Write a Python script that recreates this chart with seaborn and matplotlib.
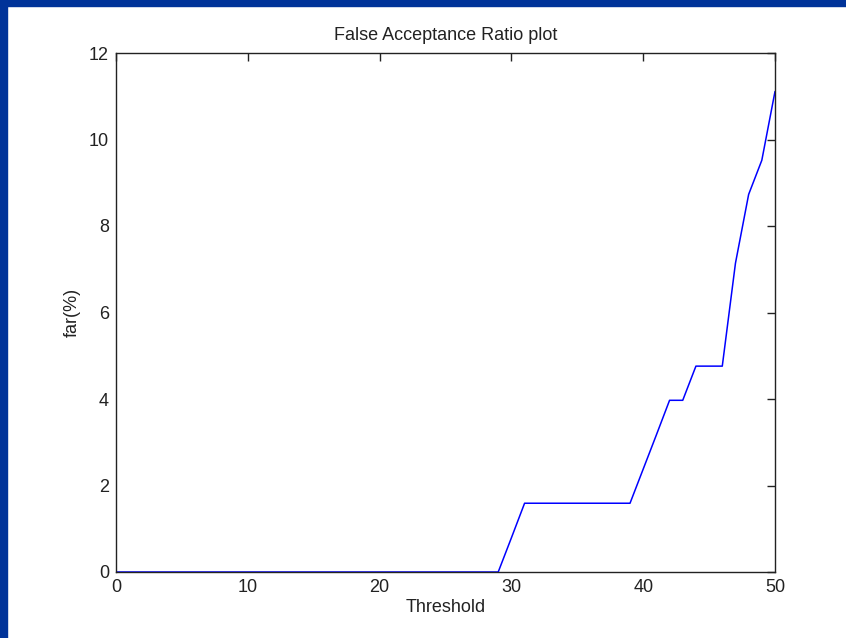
import numpy as np
import pandas as pd
import matplotlib
matplotlib.use("Agg")
import matplotlib.pyplot as plt
from matplotlib.patches import Rectangle
import seaborn as sns

# threshold values and false acceptance ratio (%)
threshold = list(range(0, 51))
far_nonzero = {30: 0.79, 31: 1.59, 32: 1.59, 33: 1.59, 34: 1.59, 35: 1.59,
               36: 1.59, 37: 1.59, 38: 1.59, 39: 1.59, 40: 2.38, 41: 3.17,
               42: 3.97, 43: 3.97, 44: 4.76, 45: 4.76, 46: 4.76, 47: 7.14,
               48: 8.73, 49: 9.52, 50: 11.11}
far = [far_nonzero.get(t, 0.0) for t in threshold]

xticks = [0, 10, 20, 30, 40, 50]
yticks = [0, 2, 4, 6, 8, 10, 12]

df = pd.DataFrame({"Threshold": threshold, "far": far})

sns.set_style("white")
plt.rcParams['font.family'] = ['Liberation Sans', 'DejaVu Sans']

fig = plt.figure(figsize=(8.46, 6.38), dpi=100)
fig.patch.set_facecolor("white")
# dark blue slide border
fig.patches.append(Rectangle((0, 0), 7/846, 1, transform=fig.transFigure,
                             color="#003399", zorder=0))
fig.patches.append(Rectangle((0, 1 - 6/638), 1, 6/638, transform=fig.transFigure,
                             color="#003399", zorder=0))

ax = fig.add_axes([116/846, 66/638, 659/846, 519/638])
sns.lineplot(data=df, x="Threshold", y="far", ax=ax, color="#0000ff", linewidth=1.1)

ax.set_xlim(0, 50)
ax.set_ylim(0, 12)
ax.set_xticks(xticks)
ax.set_yticks(yticks)
ax.tick_params(direction="in", length=6, width=1, top=True, right=True,
               labelsize=13, colors="#222222", pad=5)
for s in ax.spines.values():
    s.set_visible(True)
    s.set_color("#222222")
    s.set_linewidth(1)

ax.set_title("False Acceptance Ratio plot", fontsize=13, pad=9, color="#222222")
ax.set_xlabel("Threshold", fontsize=13, labelpad=2, color="#222222")
ax.set_ylabel("far(%)", fontsize=13, labelpad=6, color="#222222")

fig.savefig("out.png", dpi=100)
